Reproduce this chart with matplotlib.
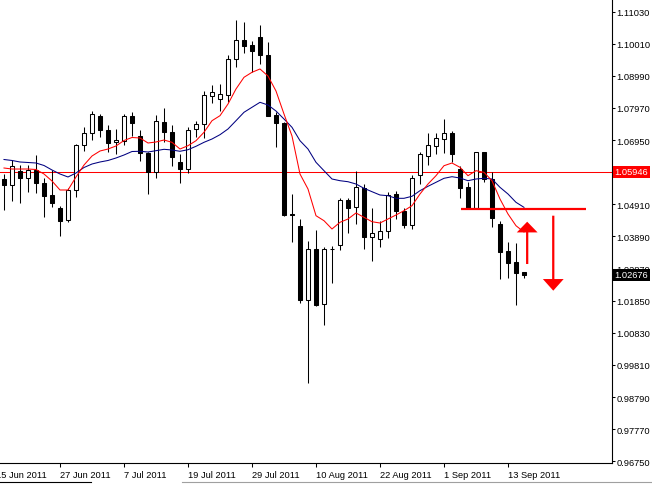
import numpy as np
import matplotlib
matplotlib.use("Agg")
import matplotlib.pyplot as plt
from matplotlib.lines import Line2D
from matplotlib.transforms import offset_copy

plt.rcParams['font.family'] = ['Liberation Sans', 'DejaVu Sans']

# daily candles, 15 Jun 2011 .. 16 Sep 2011
opens = [1.05714, 1.05533, 1.05968, 1.05755, 1.06009, 1.05587, 1.05206, 1.04803, 1.04403, 1.05355,
         1.06784, 1.07165, 1.07705, 1.07260, 1.06879, 1.06930, 1.07705, 1.07079, 1.06539, 1.05927,
         1.07514, 1.07197, 1.06244, 1.06022, 1.07292, 1.07451, 1.08340, 1.08264, 1.08371, 1.09514,
         1.10118, 1.09959, 1.10213, 1.09651, 1.07756, 1.07492, 1.04612, 1.04212, 1.01863, 1.03482,
         1.01736, 1.03476, 1.03628, 1.05047, 1.04815, 1.05428, 1.03863, 1.03809, 1.04063, 1.05238,
         1.04698, 1.04263, 1.05841, 1.06454, 1.06771, 1.06984, 1.07174, 1.06031, 1.05450, 1.04793,
         1.06562, 1.05714, 1.04285, 1.03419, 1.03069, 1.02761]
highs = [1.05873, 1.06317, 1.06158, 1.06158, 1.06476, 1.05746, 1.06000, 1.04847, 1.05428, 1.06825,
         1.07375, 1.07863, 1.07778, 1.07419, 1.07301, 1.07778, 1.07832, 1.07270, 1.06571, 1.07746,
         1.07959, 1.07428, 1.06508, 1.07355, 1.07546, 1.08518, 1.08708, 1.08730, 1.09641, 1.10762,
         1.10708, 1.10086, 1.10603, 1.10054, 1.07832, 1.07533, 1.05238, 1.04444, 1.03736, 1.04095,
         1.03545, 1.03587, 1.05111, 1.05111, 1.05959, 1.05546, 1.04784, 1.04380, 1.05292, 1.05343,
         1.04803, 1.05841, 1.06581, 1.07174, 1.07174, 1.07619, 1.07248, 1.06117, 1.05609, 1.06562,
         1.06581, 1.05927, 1.04371, 1.03704, 1.03672, 1.02761]
lows = [1.04739, 1.05025, 1.04942, 1.05292, 1.05260, 1.04517, 1.04835, 1.03895, 1.04339, 1.05152,
        1.06613, 1.06962, 1.07057, 1.06562, 1.06498, 1.06803, 1.07089, 1.06295, 1.05238, 1.05746,
        1.06898, 1.06136, 1.05577, 1.05914, 1.07057, 1.07025, 1.08117, 1.07883, 1.08149, 1.09260,
        1.09705, 1.09102, 1.09365, 1.07724, 1.06740, 1.04530, 1.03723, 1.01767, 0.99247, 1.01672,
        1.01088, 1.02422, 1.03469, 1.04009, 1.04295, 1.03482, 1.03120, 1.03565, 1.03831, 1.04444,
        1.04158, 1.04126, 1.05546, 1.06168, 1.06508, 1.06539, 1.06244, 1.05101, 1.04761, 1.04761,
        1.05609, 1.04180, 1.02539, 1.02561, 1.01723, 1.02580]
closes = [1.05533, 1.06117, 1.05746, 1.06009, 1.05597, 1.05184, 1.04962, 1.04390, 1.05365, 1.06784,
          1.07174, 1.07778, 1.07279, 1.06867, 1.06943, 1.07705, 1.07482, 1.06530, 1.05927, 1.07546,
          1.07197, 1.06403, 1.06022, 1.07279, 1.07451, 1.08381, 1.08476, 1.08413, 1.09514, 1.10118,
          1.09946, 1.09788, 1.09651, 1.07724, 1.07482, 1.04581, 1.04581, 1.01863, 1.03482, 1.01723,
          1.03482, 1.03498, 1.05047, 1.04803, 1.05450, 1.03863, 1.03990, 1.04053, 1.05216, 1.04688,
          1.04263, 1.05736, 1.06498, 1.06793, 1.07006, 1.07174, 1.06498, 1.05438, 1.04793, 1.06562,
          1.05714, 1.04485, 1.03406, 1.03057, 1.02739, 1.02676]

# moving averages
ma_fast = [1.06063, 1.06031, 1.06031, 1.06031, 1.06016, 1.05873, 1.05650, 1.05365, 1.05365, 1.05778,
           1.06158, 1.06444, 1.06603, 1.06666, 1.06762, 1.06936, 1.07032, 1.07016, 1.06857, 1.06889,
           1.06952, 1.06879, 1.06666, 1.06771, 1.06930, 1.07197, 1.07565, 1.07724, 1.08095, 1.08572,
           1.08943, 1.09102, 1.09207, 1.08984, 1.08508, 1.07778, 1.07079, 1.05873, 1.05397, 1.04549,
           1.04390, 1.04127, 1.04339, 1.04444, 1.04635, 1.04498, 1.04358, 1.04317, 1.04444, 1.04571,
           1.04708, 1.04866, 1.05238, 1.05555, 1.05819, 1.06136, 1.06222, 1.06085, 1.05819, 1.05978,
           1.05927, 1.05660, 1.05079, 1.04603, 1.04231, 1.04031]
ma_slow = [1.06333, 1.06302, 1.06254, 1.06238, 1.06222, 1.06143, 1.06000, 1.05873, 1.05778, 1.05905,
           1.06079, 1.06190, 1.06254, 1.06302, 1.06381, 1.06476, 1.06587, 1.06594, 1.06571, 1.06613,
           1.06657, 1.06635, 1.06594, 1.06644, 1.06752, 1.06879, 1.06984, 1.07121, 1.07302, 1.07565,
           1.07832, 1.07991, 1.08149, 1.08064, 1.07873, 1.07619, 1.07355, 1.06930, 1.06666, 1.06244,
           1.05978, 1.05714, 1.05660, 1.05628, 1.05555, 1.05419, 1.05311, 1.05206, 1.05184, 1.05101,
           1.05101, 1.05165, 1.05343, 1.05482, 1.05609, 1.05736, 1.05787, 1.05746, 1.05660, 1.05714,
           1.05736, 1.05714, 1.05450, 1.05238, 1.04974, 1.04815]

date_labels = ["15 Jun 2011", "27 Jun 2011", "7 Jul 2011", "19 Jul 2011", "29 Jul 2011",
               "10 Aug 2011", "22 Aug 2011", "1 Sep 2011", "13 Sep 2011"]
date_bars = [-1, 7, 15, 23, 31, 39, 47, 55, 63]

price_ticks = [1.11030, 1.10010, 1.08990, 1.07970, 1.06950, 1.05930, 1.04910, 1.03890,
               1.02870, 1.01850, 1.00830, 0.99810, 0.98790, 0.97770, 0.96750]

hline_level = 1.05946
last_price = 1.02676

# hand drawn marks: support line and the two arrows
support_level = 1.04752
support_span = (57.1, 72.8)
arrow_up = (65.4, 1.03015, 1.04358)
arrow_down = (68.66, 1.04549, 1.02168)

W, H = 652, 485
fig = plt.figure(figsize=(W / 100, H / 100), dpi=100)
ax = fig.add_axes([0, 21.5 / H, 611.5 / W, 463.5 / H])

x = np.arange(len(opens))
o = np.array(opens)
c = np.array(closes)
up = c >= o

ax.axhline(hline_level, color='#ff0000', lw=0.75, zorder=1)

ax.vlines(x, lows, highs, color='black', lw=0.75, zorder=2)
bottom = np.minimum(o, c)
height = np.abs(c - o)
height = np.where(height < 0.00015, 0.00015, height)
ax.bar(x, height, bottom=bottom, width=0.62,
       color=np.where(up, 'white', 'black'), edgecolor='black', lw=0.75, zorder=3)

ax.plot(x, ma_slow, color='#000080', lw=0.75, zorder=4)
ax.plot(x, ma_fast, color='#ff0000', lw=0.75, zorder=4)

ax.hlines(support_level, support_span[0], support_span[1], color='#ff0000', lw=1.6, zorder=5)
for xa, y0, y1 in [arrow_up, arrow_down]:
    hl = 0.0034 if y1 > y0 else 0.0037
    ax.arrow(xa, y0, 0, y1 - y0, width=0.28, head_width=2.6, head_length=hl,
             length_includes_head=True, color='#ff0000', lw=0, zorder=5)

ax.set_xlim(-0.5, 75.94)
ax.set_ylim(0.96713, 1.11429)

for s in ['left', 'top']:
    ax.spines[s].set_visible(False)
for s in ['right', 'bottom']:
    ax.spines[s].set_linewidth(0.8)

# the 1.05930 label is hidden under the red price box in the terminal
ylabels = ["%.5f" % v for v in price_ticks]
ylabels[price_ticks.index(1.05930)] = ""
ax.yaxis.tick_right()
ax.set_yticks(price_ticks)
ax.set_yticklabels(ylabels)
ax.tick_params(axis='y', direction='out', length=2.5, width=0.75, pad=1.2, labelsize=6.7)

ax.set_xticks(date_bars[1:])
ax.set_xticklabels(date_labels[1:], ha='left')
ax.tick_params(axis='x', direction='out', length=3, width=0.75, pad=2.5, labelsize=6.7)

# first date label sits left of the view, so it is placed by hand
tr = offset_copy(ax.get_xaxis_transform(), fig=fig, y=-5.5, units='points')
ax.text(date_bars[0], 0, date_labels[0], transform=tr,
        fontsize=6.7, ha='left', va='top', clip_on=False)

ytr = ax.get_yaxis_transform()
ax.text(1.0045, hline_level, "%.5f" % hline_level, transform=ytr, fontsize=6.7, color='white',
        va='center', ha='left', zorder=10, clip_on=False,
        bbox=dict(boxstyle='square,pad=0.18', fc='#ff0000', ec='none'))
ax.text(1.0045, last_price, "%.5f" % last_price, transform=ytr, fontsize=6.7, color='white',
        va='center', ha='left', zorder=10, clip_on=False,
        bbox=dict(boxstyle='square,pad=0.18', fc='black', ec='none'))

# tab bar edge at the very bottom
fig.add_artist(Line2D([0, 91 / W], [2 / H, 2 / H], color='black', lw=0.8))
fig.add_artist(Line2D([182 / W, 1], [2 / H, 2 / H], color='#a0a0a0', lw=0.8))

fig.savefig("out.png", dpi=100)
